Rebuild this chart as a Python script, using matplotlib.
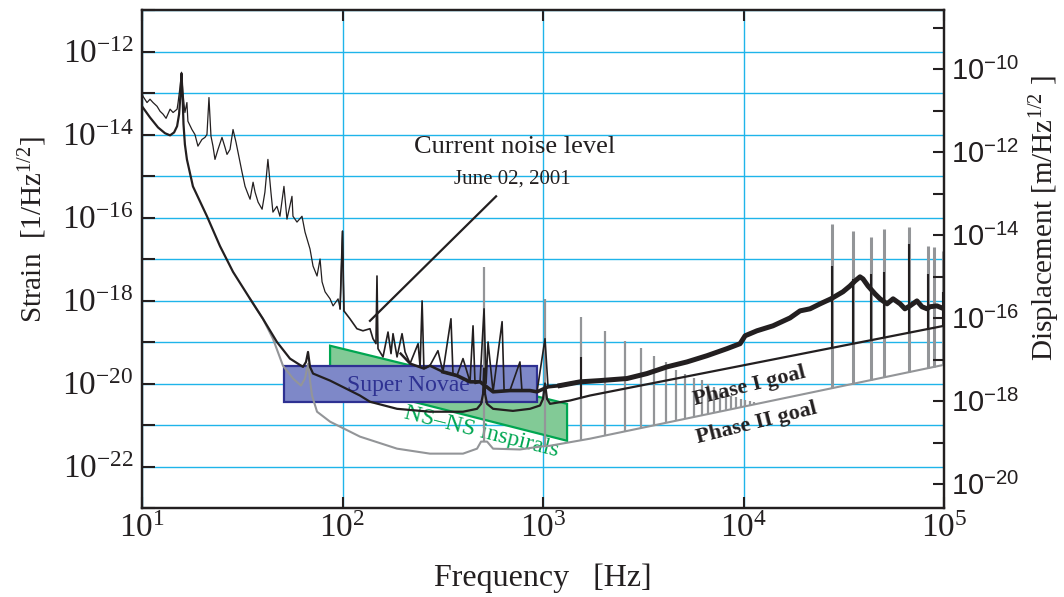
import numpy as np
import matplotlib
matplotlib.use('Agg')
from matplotlib import pyplot as plt
from matplotlib.patches import Polygon, Rectangle
from matplotlib.ticker import FixedLocator, FixedFormatter, NullLocator

plt.rcParams['font.family'] = 'Liberation Serif'
plt.rcParams['mathtext.fontset'] = 'custom'
plt.rcParams['mathtext.rm'] = 'Liberation Serif'
plt.rcParams['mathtext.it'] = 'Liberation Serif:italic'
plt.rcParams['mathtext.bf'] = 'Liberation Serif:bold'
plt.rcParams['mathtext.sf'] = 'Liberation Sans'

INK = '#231f20'
GRID = '#1fb4ea'
GRAY = '#939598'

# all values are log10(frequency [Hz]) and log10(strain [1/Hz^1/2])
noise_logf = [1.000, 1.005, 1.025, 1.040, 1.055, 1.075, 1.090, 1.105, 1.120, 1.140,
              1.155, 1.175, 1.180, 1.190, 1.197, 1.204, 1.214, 1.224, 1.229, 1.249,
              1.264, 1.279, 1.299, 1.314, 1.324, 1.334, 1.344, 1.354, 1.364, 1.379,
              1.399, 1.414, 1.424, 1.439, 1.454, 1.469, 1.479, 1.499, 1.514, 1.529,
              1.539, 1.554, 1.564, 1.579, 1.599, 1.613, 1.628, 1.643, 1.653, 1.673,
              1.688, 1.708, 1.723, 1.748, 1.753, 1.773, 1.798, 1.813, 1.838, 1.853,
              1.873, 1.888, 1.898, 1.913, 1.938, 1.953, 1.978, 1.988, 2.000, 2.007,
              2.037, 2.072, 2.102, 2.137, 2.152, 2.167, 2.172, 2.177, 2.202, 2.227,
              2.242, 2.252, 2.272, 2.297, 2.312, 2.337, 2.377, 2.387, 2.397, 2.406,
              2.436, 2.476, 2.501, 2.541, 2.551, 2.571, 2.601, 2.636, 2.651, 2.661,
              2.686, 2.706, 2.716, 2.726, 2.751, 2.796, 2.806, 2.835, 2.885, 2.895,
              2.935, 2.970, 3.010, 3.025, 3.050, 3.085, 3.135, 3.185, 3.284, 3.419,
              3.519, 3.618, 3.718, 3.818, 3.918, 3.983, 4.008, 4.067, 4.147, 4.232,
              4.282, 4.332, 4.382, 4.436, 4.456, 4.496, 4.531, 4.556, 4.581, 4.596,
              4.621, 4.656, 4.681, 4.716, 4.746, 4.781, 4.805, 4.830, 4.865, 4.890,
              4.915, 4.930, 4.965, 5.000]
noise_logh = [-12.99, -13.08, -13.23, -13.15, -13.23, -13.32, -13.44, -13.51, -13.61, -13.39,
              -13.47, -13.39, -13.23, -12.84, -12.50, -12.99, -13.47, -13.23, -13.68, -13.88,
              -14.00, -14.28, -14.12, -14.07, -14.00, -13.11, -14.04, -14.28, -14.60, -14.36,
              -14.07, -14.31, -14.48, -14.36, -13.88, -14.19, -14.43, -14.91, -15.25, -15.44,
              -15.56, -15.15, -15.39, -15.63, -15.80, -15.39, -14.60, -15.39, -15.87, -15.73,
              -15.97, -15.25, -16.04, -15.49, -15.97, -16.11, -15.97, -16.35, -16.76, -17.17,
              -17.41, -17.00, -17.55, -17.79, -17.96, -18.13, -17.96, -18.20, -16.33, -18.25,
              -18.44, -18.68, -18.73, -18.68, -18.92, -19.04, -17.41, -19.16, -19.36, -18.76,
              -19.28, -18.80, -19.36, -18.80, -19.24, -19.52, -19.04, -19.60, -18.01, -19.64,
              -19.57, -19.21, -19.72, -18.44, -19.76, -19.81, -19.40, -19.96, -18.61, -20.00,
              -19.96, -18.20, -20.00, -19.00, -20.20, -18.51, -20.17, -20.17, -19.48, -20.17,
              -20.17, -20.20, -18.92, -20.08, -20.05, -20.05, -20.00, -19.96, -19.93, -19.88,
              -19.76, -19.60, -19.48, -19.33, -19.16, -19.04, -18.85, -18.73, -18.61, -18.42,
              -18.25, -18.20, -18.08, -17.96, -17.91, -17.79, -17.65, -17.53, -17.43, -17.48,
              -17.65, -17.84, -17.96, -18.08, -17.96, -18.08, -18.20, -18.13, -18.01, -18.15,
              -18.20, -18.15, -18.13, -18.20]
# centre of the dense part of the trace (spikes left out)
band_logf = [2.290, 2.337, 2.406, 2.436, 2.501, 2.571, 2.636, 2.686, 2.751, 2.835,
             2.935, 2.970, 3.025, 3.085, 3.185, 3.284, 3.419, 3.519, 3.618, 3.718,
             3.818, 3.918, 3.983, 4.008, 4.067, 4.147, 4.232, 4.282, 4.332, 4.382,
             4.436, 4.496, 4.531, 4.556, 4.581, 4.596, 4.621, 4.656, 4.681, 4.716,
             4.746, 4.781, 4.805, 4.830, 4.865, 4.890, 4.915, 4.930, 4.965, 5.000]
band_logh = [-19.28, -19.52, -19.64, -19.57, -19.72, -19.81, -19.96, -19.96, -20.20, -20.17,
             -20.17, -20.20, -20.08, -20.05, -19.96, -19.93, -19.88, -19.76, -19.60, -19.48,
             -19.33, -19.16, -19.04, -18.85, -18.73, -18.61, -18.42, -18.25, -18.20, -18.08,
             -17.96, -17.79, -17.65, -17.53, -17.43, -17.48, -17.65, -17.84, -17.96, -18.08,
             -17.96, -18.08, -18.20, -18.13, -18.01, -18.15, -18.20, -18.15, -18.13, -18.20]

phase1_logf = [1.000, 1.040, 1.080, 1.115, 1.140, 1.160, 1.175, 1.185, 1.192, 1.197,
               1.202, 1.207, 1.214, 1.224, 1.254, 1.324, 1.389, 1.454, 1.539, 1.603,
               1.673, 1.738, 1.803, 1.818, 1.828, 1.838, 1.853, 1.938, 2.087, 2.137,
               2.272, 2.436, 2.601, 2.671, 2.691, 2.701, 2.706, 2.711, 2.721, 2.751,
               2.850, 2.935, 2.985, 3.000, 3.010, 3.020, 3.035, 3.135, 3.234, 5.000]
phase1_logh = [-13.32, -13.59, -13.83, -13.97, -14.02, -13.95, -13.80, -13.51, -13.03, -12.53,
               -13.03, -13.75, -14.24, -14.60, -15.25, -15.97, -16.69, -17.31, -17.96, -18.44,
               -19.00, -19.40, -19.60, -19.48, -19.24, -19.60, -19.76, -19.93, -20.29, -20.44,
               -20.61, -20.68, -20.68, -20.61, -20.49, -20.25, -19.64, -20.25, -20.49, -20.61,
               -20.66, -20.61, -20.53, -20.37, -20.00, -20.37, -20.49, -20.41, -20.29, -18.61]
phase1_spike_logf = [3.190, 4.441, 4.546, 4.636, 4.701, 4.825, 4.920, 4.995]
phase1_spike_top = [-19.36, -17.17, -17.48, -17.36, -17.31, -16.64, -17.36, -17.79]

phase2_logf = [1.539, 1.603, 1.653, 1.703, 1.753, 1.793, 1.813, 1.823, 1.830, 1.838,
               1.848, 1.873, 1.938, 2.087, 2.272, 2.436, 2.601, 2.671, 2.691, 2.721,
               2.751, 2.885, 2.985, 3.035, 3.234, 5.000]
phase2_logh = [-17.96, -18.44, -18.92, -19.57, -19.88, -20.05, -19.88, -19.64, -19.52, -19.93,
               -20.29, -20.68, -20.92, -21.28, -21.57, -21.69, -21.69, -21.57, -21.40, -21.40,
               -21.57, -21.59, -21.52, -21.50, -21.33, -19.55]
# violin mode harmonics
comb_logf = [2.706, 3.010, 3.190, 3.309, 3.409, 3.489, 3.554, 3.613, 3.663, 3.708, 3.753,
             3.793, 3.823, 3.853, 3.883, 3.913, 3.938, 3.963, 3.988, 4.008, 4.033, 4.053]
comb_top = [-17.19, -17.96, -18.39, -18.73, -18.97, -19.14, -19.33, -19.48, -19.67, -19.76, -19.86,
            -19.91, -20.00, -20.08, -20.17, -20.22, -20.29, -20.32, -20.37, -20.39, -20.41, -20.44]
hf_spike_logf = [4.441, 4.546, 4.636, 4.701, 4.825, 4.920, 4.950, 4.995]
hf_spike_top = [-16.16, -16.33, -16.47, -16.28, -16.23, -16.69, -16.71, -16.81]

supernova_logf = [1.708, 2.970]
supernova_logh = [-20.44, -19.57]
nsns_logf = [1.938, 3.120, 3.120, 1.938]
nsns_logh = [-19.09, -20.49, -21.38, -19.93]

arm_length = 270.0  # displacement = strain * L

xtick_exp = [1, 2, 3, 4, 5]
ytick_exp = list(range(-23, -10))
rtick_exp = list(range(-20, -8))


def p10(a):
    return 10.0 ** np.asarray(a, dtype=float)


def piece(lf, lo, hi):
    # index range covering [lo, hi] plus one neighbour each side, so pieces join up
    lf = np.asarray(lf)
    i0 = max(int(np.searchsorted(lf, lo)) - 1, 0)
    i1 = min(int(np.searchsorted(lf, hi, side='right')) + 1, len(lf))
    return slice(i0, i1)


fig = plt.figure(figsize=(10.64, 5.97), dpi=100)
ax = fig.add_axes([142 / 1064, 89 / 597, 802 / 1064, 498 / 597])
ax.set_xscale('log')
ax.set_yscale('log')
ax.set_xlim(10, 1e5)
ax.set_ylim(1e-23, 1e-11)

# source regions
ns = Polygon(np.column_stack([p10(nsns_logf), p10(nsns_logh)]), closed=True,
             facecolor='#82ca96', edgecolor='#00a651', lw=1.6, zorder=2)
ax.add_patch(ns)
sn = Rectangle((p10(supernova_logf[0]), p10(supernova_logh[0])),
               p10(supernova_logf[1]) - p10(supernova_logf[0]),
               p10(supernova_logh[1]) - p10(supernova_logh[0]),
               facecolor='#7e88c8', edgecolor='#2e3192', lw=1.6, zorder=2.1)
ax.add_patch(sn)
ax.text(10 ** 2.327, 10 ** -20.05, 'Super Novae', color='#2e3192', fontsize=17,
        ha='center', va='center', zorder=2.2)
ax.text(10 ** 2.691, 10 ** -21.16, 'NS\u2013NS inspirals', color='#00a651', fontsize=17,
        ha='center', va='center', rotation=-14, rotation_mode='anchor', zorder=2.5)

# phase II goal (gray) with its spikes
ax.plot(p10(phase2_logf), p10(phase2_logh), color=GRAY, lw=1.5, zorder=3)
base2 = np.interp(comb_logf, phase2_logf, phase2_logh)
ax.vlines(p10(comb_logf), p10(base2), p10(comb_top), color=GRAY, lw=1.6, zorder=3)
base2 = np.interp(hf_spike_logf, phase2_logf, phase2_logh)
ax.vlines(p10(hf_spike_logf), p10(base2), p10(hf_spike_top), color=GRAY, lw=2.2, zorder=3)

# phase I goal (black)
ax.plot(p10(phase1_logf), p10(phase1_logh), color=INK, lw=1.6, zorder=4)
base1 = np.interp(phase1_spike_logf, phase1_logf, phase1_logh)
ax.vlines(p10(phase1_spike_logf), p10(base1), p10(phase1_spike_top), color=INK, lw=1.5, zorder=4)

# measured noise: thin trace with spikes, plus the dense band
ax.plot(p10(noise_logf[piece(noise_logf, 1.0, 2.0)]), p10(noise_logh[piece(noise_logf, 1.0, 2.0)]),
        color=INK, lw=0.9, zorder=5)
ax.plot(p10(noise_logf[piece(noise_logf, 2.0, 5.0)]), p10(noise_logh[piece(noise_logf, 2.0, 5.0)]),
        color=INK, lw=1.2, zorder=5)
for lo, hi, w in [(2.29, 2.55, 1.8), (2.55, 3.1, 2.6), (3.1, 5.0, 3.6)]:
    s = piece(band_logf, lo, hi)
    ax.plot(p10(band_logf[s]), p10(band_logh[s]), color=INK, lw=w, zorder=5)

# annotation
ax.plot(p10([2.137, 2.766]), p10([-18.49, -15.49]), color=INK, lw=1.6, zorder=6)
ax.text(10 ** 2.860, 10 ** -14.31, 'Current noise level', color=INK, fontsize=19,
        ha='center', va='center', zorder=6)
ax.text(10 ** 2.845, 10 ** -15.08, 'June 02, 2001', color=INK, fontsize=15,
        ha='center', va='center', zorder=6)
ax.text(10 ** 4.032, 10 ** -20.08, 'Phase I goal', color=INK, fontsize=16, fontweight='bold',
        ha='center', va='center', rotation=14, zorder=6)
ax.text(10 ** 4.067, 10 ** -20.97, 'Phase II goal', color=INK, fontsize=16, fontweight='bold',
        ha='center', va='center', rotation=14, zorder=6)

# axes styling
ax.set_axisbelow(True)
ax.xaxis.set_major_locator(FixedLocator(p10(xtick_exp)))
ax.xaxis.set_major_formatter(FixedFormatter([r'$10^{%d}$' % e for e in xtick_exp]))
ax.xaxis.set_minor_locator(NullLocator())
ax.yaxis.set_major_locator(FixedLocator(p10(ytick_exp)))
ax.yaxis.set_major_formatter(FixedFormatter(
    [r'$10^{%d}$' % e if e % 2 == 0 else '' for e in ytick_exp]))
ax.yaxis.set_minor_locator(NullLocator())
ax.grid(True, which='major', color=GRID, lw=1.0)
ax.tick_params(axis='x', direction='in', length=8, width=1.5, top=True, labelsize=24,
               pad=4, colors=INK)
ax.tick_params(axis='y', direction='in', length=9, width=1.5, labelsize=24, pad=6, colors=INK)
for s in ax.spines.values():
    s.set_linewidth(1.6)
    s.set_color(INK)

ax2 = ax.twinx()
ax2.set_yscale('log')
ax2.set_ylim(1e-23 * arm_length, 1e-11 * arm_length)
ax2.yaxis.set_major_locator(FixedLocator(p10(rtick_exp)))
ax2.yaxis.set_major_formatter(FixedFormatter(
    [r'$\mathsf{10}^{\mathsf{%d}}$' % e if e % 2 == 0 else '' for e in rtick_exp]))
ax2.yaxis.set_minor_locator(NullLocator())
ax2.tick_params(axis='y', direction='in', length=8, width=1.5, labelsize=21, pad=5, colors=INK)
for s in ax2.spines.values():
    s.set_linewidth(1.6)
    s.set_color(INK)

fig.text(0.510, 0.032, 'Frequency   [Hz]', fontsize=23, color=INK, ha='center', va='center')
fig.text(0.031, 0.615, r'Strain  [$\mathrm{1/Hz}^{\mathrm{1/2}}$]', fontsize=21, color=INK,
         rotation=90, ha='center', va='center')
fig.text(0.982, 0.635, r'Displacement [$\mathrm{m/Hz}^{\mathrm{1/2}}$ ]', fontsize=21, color=INK,
         rotation=90, ha='center', va='center')

fig.savefig('out.png', dpi=100)
